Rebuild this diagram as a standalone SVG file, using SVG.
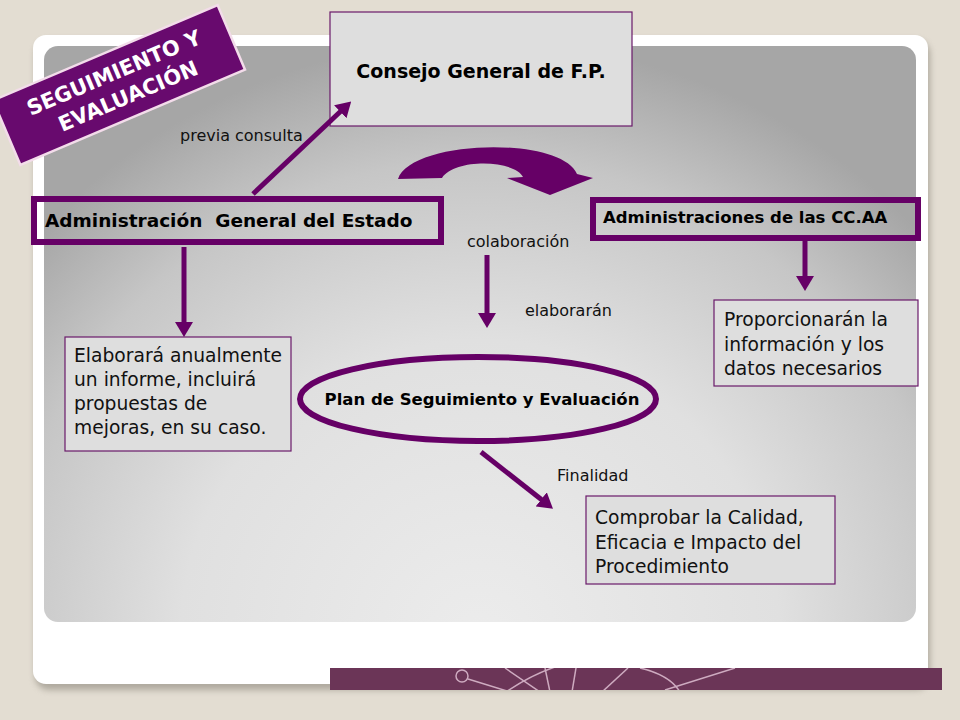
<svg xmlns="http://www.w3.org/2000/svg" width="960" height="720" viewBox="0 0 960 720">
<defs>
<radialGradient id="panel" gradientUnits="userSpaceOnUse" cx="480" cy="640" r="600">
<stop offset="0" stop-color="#ececec"/>
<stop offset="0.5" stop-color="#e0e0e0"/>
<stop offset="0.8" stop-color="#c6c6c6"/>
<stop offset="1" stop-color="#a6a6a6"/>
</radialGradient>
<filter id="shadow" x="-5%" y="-5%" width="110%" height="115%">
<feGaussianBlur stdDeviation="3"/>
</filter>
<marker id="ah" viewBox="0 0 15 18" refX="1" refY="9" markerWidth="15" markerHeight="18" markerUnits="userSpaceOnUse" orient="auto">
<path d="M0,0 L15,9 L0,18 z" fill="#660066"/>
</marker>
<clipPath id="barclip"><rect x="330" y="668" width="612" height="22"/></clipPath>
</defs>
<style>
.conn{stroke:#660066;stroke-width:5;fill:none;marker-end:url(#ah)}
.lbl{font-family:"DejaVu Sans",Verdana,sans-serif;font-size:16px;fill:#111}
.body{font-family:"DejaVu Sans",Verdana,sans-serif;font-size:18.7px;fill:#111}
.bold{font-family:"DejaVu Sans",Verdana,sans-serif;font-weight:bold;fill:#000}
.box{fill:#dedede;stroke:#6a1a6a;stroke-width:1.2}
.thick{fill:none;stroke:#660066;stroke-width:6}
</style>
<!-- background -->
<rect width="960" height="720" fill="#e3ddd2"/>
<rect x="35" y="40" width="895" height="650" rx="14" fill="#8c877c" opacity="0.6" filter="url(#shadow)"/>
<rect x="33" y="35" width="895" height="649" rx="13" fill="#ffffff"/>
<rect x="44" y="46" width="872" height="576" rx="14" fill="url(#panel)"/>
<!-- bottom decorative bar -->
<rect x="330" y="668" width="612" height="22" fill="#6b3557"/>
<g clip-path="url(#barclip)" stroke="#d9b8cc" stroke-width="1.5" fill="none" opacity="0.9">
<circle cx="462" cy="676" r="6"/>
<line x1="468" y1="679" x2="520" y2="695"/>
<path d="M495 700 Q 560 650 630 660"/>
<line x1="505" y1="668" x2="540" y2="692"/>
<line x1="545" y1="668" x2="550" y2="692"/>
<line x1="576" y1="668" x2="572" y2="692"/>
<line x1="628" y1="668" x2="602" y2="692"/>
<path d="M640 668 Q 670 675 680 692"/>
<line x1="665" y1="690" x2="735" y2="668"/>
</g>
<!-- banner -->
<g id="banner" transform="translate(119,85) rotate(-23)">
<rect x="-122" y="-35" width="244" height="70" fill="#680a6e" stroke="#f3dcea" stroke-width="2.5"/>
<text class="bold" x="0" y="-6" text-anchor="middle" font-size="21" style="fill:#fff">SEGUIMIENTO Y</text>
<text class="bold" x="4" y="21" text-anchor="middle" font-size="21" style="fill:#fff">EVALUACIÓN</text>
</g>
<!-- nodes -->
<g id="consejo">
<rect class="box" x="330" y="12" width="302" height="114"/>
<text class="bold" x="481" y="78" text-anchor="middle" font-size="19">Consejo General de F.P.</text>
</g>
<g id="age">
<rect class="thick" x="34" y="199" width="407" height="43"/>
<text class="bold" x="45" y="227" font-size="18.5" xml:space="preserve">Administración  General del Estado</text>
</g>
<g id="ccaa">
<rect class="thick" x="593" y="200" width="325" height="38"/>
<text class="bold" x="603" y="223" font-size="16.5">Administraciones de las CC.AA</text>
</g>
<g id="elaborara">
<rect class="box" x="65" y="337" width="226" height="114"/>
<text class="body" x="74" y="362">Elaborará anualmente</text>
<text class="body" x="74" y="386">un informe, incluirá</text>
<text class="body" x="74" y="410">propuestas de</text>
<text class="body" x="74" y="434">mejoras, en su caso.</text>
</g>
<g id="proporcionaran">
<rect class="box" x="714" y="300" width="204" height="86"/>
<text class="body" x="724" y="326">Proporcionarán la</text>
<text class="body" x="724" y="351">información y los</text>
<text class="body" x="724" y="375">datos necesarios</text>
</g>
<g id="plan">
<ellipse class="thick" cx="478" cy="399" rx="178" ry="42"/>
<text class="bold" x="482" y="405" text-anchor="middle" font-size="16.5">Plan de Seguimiento y Evaluación</text>
</g>
<g id="comprobar">
<rect class="box" x="586" y="496" width="249" height="88"/>
<text class="body" x="595" y="524">Comprobar la Calidad,</text>
<text class="body" x="595" y="549">Eficacia e Impacto del</text>
<text class="body" x="595" y="573">Procedimiento</text>
</g>
<!-- connectors -->
<g id="connectors">
<line class="conn" x1="253" y1="194" x2="341" y2="111"/>
<line class="conn" x1="184" y1="247" x2="184" y2="323"/>
<line class="conn" x1="487" y1="255" x2="487" y2="314" stroke-width="6"/>
<line class="conn" x1="805" y1="241" x2="805" y2="277"/>
<line class="conn" x1="481" y1="452" x2="542" y2="500"/>
<path d="M398,179 C410,140 560,135 577,174 L593,178 L550,195 L507,178 L523,177 C515,160 455,158 442,178 Z" fill="#660066"/>
<text class="lbl" x="180" y="141">previa consulta</text>
<text class="lbl" x="467" y="247">colaboración</text>
<text class="lbl" x="525" y="316">elaborarán</text>
<text class="lbl" x="557" y="481">Finalidad</text>
</g>
</svg>
